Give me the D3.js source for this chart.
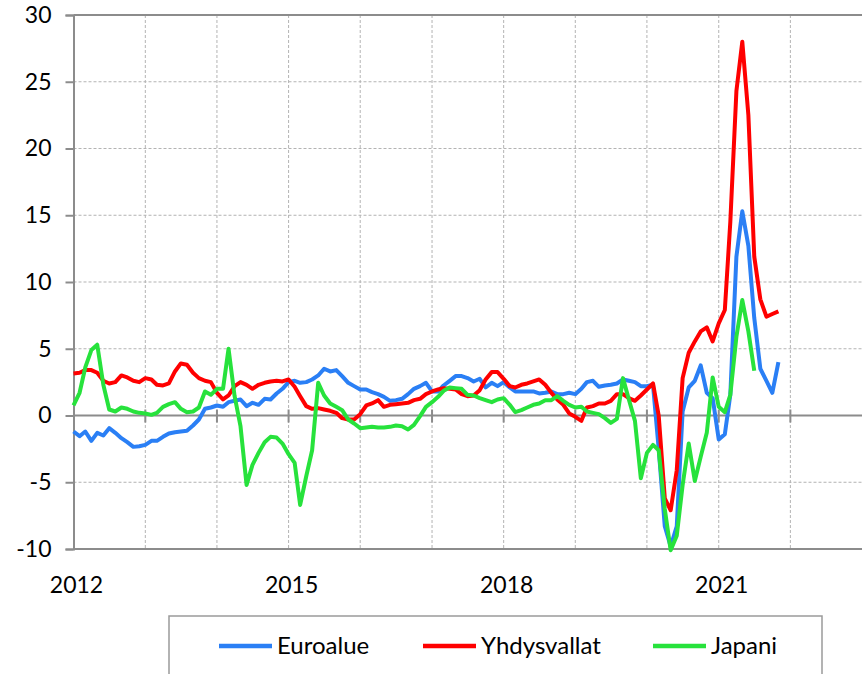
<!DOCTYPE html>
<html>
<head>
<meta charset="utf-8">
<script src="https://cdn.jsdelivr.net/npm/d3@7"></script>
<style>
  body { margin: 0; background: #fff; }
  svg text { font-family: Lato, "Open Sans", sans-serif; fill: #000; }
</style>
</head>
<body>
<svg id="canvas"></svg>
<script>
// Monthly values from January 2012 onwards.
var euroalue = [
  -1.2, -1.55, -1.2, -1.9, -1.3, -1.5, -0.95, -1.3, -1.7, -2.0, -2.35, -2.3,
  -2.2, -1.9, -1.9, -1.6, -1.35, -1.25, -1.2, -1.15, -0.75, -0.3, 0.5, 0.6,
  0.75, 0.65, 1.0, 1.1, 1.2, 0.7, 0.95, 0.8, 1.25, 1.2, 1.65, 2.0,
  2.5, 2.6, 2.45, 2.5, 2.7, 3.0, 3.5, 3.3, 3.4, 2.95, 2.45, 2.2,
  1.95, 1.95, 1.75, 1.6, 1.4, 1.1, 1.15, 1.25, 1.6, 2.0, 2.2, 2.45,
  1.8, 1.8, 2.25, 2.6, 2.95, 2.95, 2.8, 2.55, 2.75, 2.1, 2.45, 2.2,
  2.5, 2.1, 1.8, 1.8, 1.8, 1.8, 1.65, 1.7, 1.8, 1.6, 1.6, 1.7,
  1.6, 2.0, 2.5, 2.6, 2.15, 2.25, 2.3, 2.4, 2.7, 2.6, 2.5, 2.2,
  2.2, 2.3, -2.5, -8.3, -9.8, -8.3, 0.3, 2.1, 2.6, 3.75, 1.7, 1.3,
  -1.8, -1.4, 1.55, 11.9, 15.3, 12.7, 7.3, 3.5, 2.6, 1.7, 4.0
];
var yhdysvallat = [
  3.15, 3.2, 3.4, 3.4, 3.2, 2.6, 2.4, 2.5, 3.0, 2.85, 2.6, 2.5,
  2.8, 2.7, 2.3, 2.25, 2.4, 3.3, 3.9, 3.8, 3.2, 2.8, 2.6, 2.5,
  1.7, 1.2, 1.5, 2.2, 2.5, 2.3, 2.0, 2.3, 2.45, 2.55, 2.6, 2.55,
  2.7, 2.15, 1.45, 0.7, 0.5, 0.55, 0.45, 0.35, 0.2, -0.2, -0.3, -0.3,
  0.1, 0.75, 0.9, 1.15, 0.65, 0.8, 0.85, 0.9, 0.95, 1.15, 1.25, 1.6,
  1.8, 1.95, 2.05, 2.0, 1.95, 1.6, 1.45, 1.5, 1.9, 2.7, 3.25, 3.25,
  2.75, 2.2, 2.1, 2.3, 2.4, 2.55, 2.7, 2.3, 1.7, 1.2, 0.8, 0.15,
  -0.1, -0.4, 0.6, 0.7, 0.9, 0.9, 1.1, 1.6, 1.6, 1.3, 1.1, 1.5,
  1.95, 2.4, 0.0, -6.2, -7.1, -4.1, 2.8, 4.7, 5.55, 6.3, 6.6, 5.55,
  6.9, 7.9, 14.5, 24.3, 28.0, 22.5, 11.9, 8.7, 7.4, 7.6, 7.8
];
var japani = [
  0.75, 1.7, 3.6, 4.9, 5.3, 2.3, 0.45, 0.3, 0.6, 0.5, 0.3, 0.2,
  0.15, 0.05, 0.2, 0.65, 0.85, 1.0, 0.5, 0.25, 0.3, 0.6, 1.8, 1.55,
  2.0, 2.0, 5.0, 1.45, -0.8, -5.2, -3.7, -2.8, -2.0, -1.6, -1.65, -2.1,
  -2.9, -3.55, -6.7, -4.55, -2.6, 2.45, 1.5, 0.9, 0.65, 0.4, -0.3, -0.6,
  -0.95, -0.9, -0.85, -0.9, -0.9, -0.85, -0.75, -0.8, -1.05, -0.7, -0.05, 0.65,
  1.0, 1.4, 1.85, 2.1, 2.05, 2.0, 1.55, 1.5, 1.3, 1.15, 1.0, 1.2,
  1.3, 0.8, 0.25, 0.4, 0.6, 0.8, 0.9, 1.15, 1.15, 1.45, 1.1, 0.8,
  0.6, 0.65, 0.3, 0.2, 0.1, -0.2, -0.55, -0.25, 2.8, 1.2, -0.4, -4.7,
  -2.8, -2.2, -2.6, -7.0, -10.1, -9.0, -5.2, -2.1, -4.9, -3.1, -1.3, 2.85,
  0.65, 0.25, 1.55, 5.9, 8.65, 6.3, 3.35
];

var seriesNames = ['Euroalue', 'Yhdysvallat', 'Japani'];
var seriesColors = ['#2a7ff5', '#ff0000', '#27e23c'];
var yTicks = [-10, -5, 0, 5, 10, 15, 20, 25, 30];
var yearLabels = [2012, 2015, 2018, 2021];
var gridYears = [2013, 2014, 2015, 2016, 2017, 2018, 2019, 2020, 2021, 2022];

// Canvas.
var canvasWidth = 866;
var canvasHeight = 674;
var plotLeft = 73.5, plotRight = 862, plotTop = 15, plotBottom = 549;

var svg = d3.select('#canvas')
            .attr('width', canvasWidth)
            .attr('height', canvasHeight);

var monthDate = function(i) { return new Date(2012, i, 1); };
var yearDate = function(y) { return new Date(y, 0, 1); };

var xScale = d3.scaleTime()
               .domain([yearDate(2012), yearDate(2023)])
               .range([plotLeft, plotRight]);
var yScale = d3.scaleLinear()
               .domain([-10, 30])
               .range([plotBottom, plotTop]);

var gridColor = '#b3b3b3';
var axisColor = '#8c8c8c';

// Horizontal dashed grid.
svg.append('g').selectAll('line')
   .data(yTicks.filter(function(d) { return d !== 0 && d !== 30 && d !== -10; }))
   .enter().append('line')
   .attr('x1', plotLeft).attr('x2', plotRight)
   .attr('y1', function(d) { return yScale(d); })
   .attr('y2', function(d) { return yScale(d); })
   .attr('stroke', gridColor).attr('stroke-width', 1)
   .attr('stroke-dasharray', '3,2');

// Vertical dashed grid.
svg.append('g').selectAll('line')
   .data(gridYears)
   .enter().append('line')
   .attr('x1', function(d) { return xScale(yearDate(d)); })
   .attr('x2', function(d) { return xScale(yearDate(d)); })
   .attr('y1', plotTop).attr('y2', plotBottom)
   .attr('stroke', gridColor).attr('stroke-width', 1)
   .attr('stroke-dasharray', '3,2');

// Top and bottom frame lines.
[30, -10].forEach(function(v) {
  svg.append('line')
     .attr('x1', plotLeft).attr('x2', plotRight)
     .attr('y1', yScale(v)).attr('y2', yScale(v))
     .attr('stroke', axisColor).attr('stroke-width', 2);
});

// Left axis (plain hyphen for negatives, as in the original).
var yAxis = d3.axisLeft(yScale)
              .tickValues(yTicks)
              .tickFormat(function(d) { return String(d); })
              .tickSize(8)
              .tickPadding(14);
var yg = svg.append('g')
   .attr('transform', 'translate(' + plotLeft + ',0)')
   .call(yAxis);
yg.select('.domain').attr('stroke', axisColor).attr('stroke-width', 2);
yg.selectAll('.tick line').attr('stroke', axisColor).attr('stroke-width', 2);
yg.selectAll('.tick text').attr('font-size', 23).attr('font-family', 'Lato');

// Zero line with yearly ticks.
svg.append('line')
   .attr('x1', plotLeft).attr('x2', plotRight)
   .attr('y1', yScale(0)).attr('y2', yScale(0))
   .attr('stroke', axisColor).attr('stroke-width', 2);
svg.append('g').selectAll('line')
   .data(gridYears)
   .enter().append('line')
   .attr('x1', function(d) { return xScale(yearDate(d)); })
   .attr('x2', function(d) { return xScale(yearDate(d)); })
   .attr('y1', yScale(0) - 6).attr('y2', yScale(0) + 7)
   .attr('stroke', axisColor).attr('stroke-width', 2);

// Year labels.
svg.append('g').selectAll('text')
   .data(yearLabels)
   .enter().append('text')
   .attr('x', function(d) { return xScale(yearDate(d)) + 3; })
   .attr('y', 593)
   .attr('text-anchor', 'middle')
   .attr('font-size', 23)
   .text(function(d) { return d; });

// Lines.
var lineGen = d3.line()
  .x(function(d, i) { return xScale(monthDate(i)); })
  .y(function(d) { return yScale(d); });

[euroalue, yhdysvallat, japani].forEach(function(series, k) {
  svg.append('path')
     .datum(series)
     .attr('d', lineGen)
     .attr('fill', 'none')
     .attr('stroke', seriesColors[k])
     .attr('stroke-width', 4)
     .attr('stroke-linejoin', 'round');
});

// Legend.
svg.append('rect')
   .attr('x', 169).attr('y', 616)
   .attr('width', 653).attr('height', 80)
   .attr('fill', 'none')
   .attr('stroke', '#9a9a9a').attr('stroke-width', 1.5);

var legendX = [219, 423, 653];
var legend = svg.append('g').selectAll('g')
   .data(seriesNames)
   .enter().append('g')
   .attr('transform', function(d, i) { return 'translate(' + legendX[i] + ',646)'; });
legend.append('line')
   .attr('x1', 0).attr('x2', 53)
   .attr('stroke', function(d, i) { return seriesColors[i]; })
   .attr('stroke-width', 4.5);
legend.append('text')
   .attr('x', 58).attr('y', 8)
   .attr('font-size', 24)
   .text(function(d) { return d; });
</script>
</body>
</html>
